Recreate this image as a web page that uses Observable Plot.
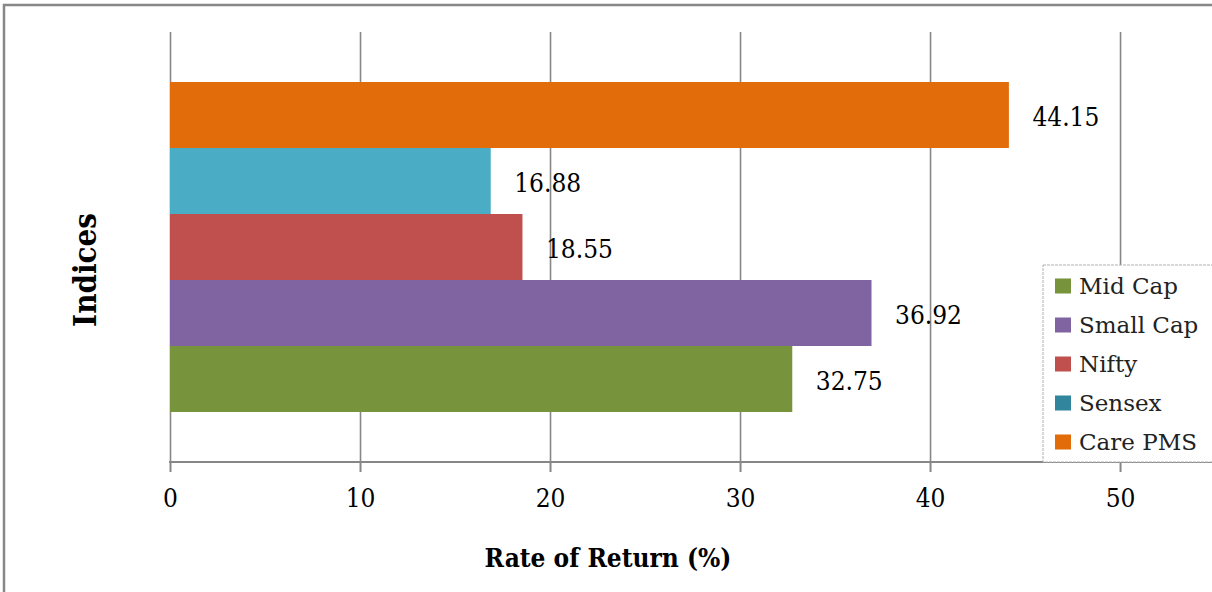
<!DOCTYPE html>
<html>
<head>
<meta charset="utf-8">
<script src="https://cdn.jsdelivr.net/npm/d3@7"></script>
<script src="https://cdn.jsdelivr.net/npm/@observablehq/plot@0.6"></script>
<style>
  html, body { margin: 0; padding: 0; background: #fff; }
  #chart { width: 1212px; height: 592px; overflow: hidden; }
  svg { font-family: "DejaVu Serif Condensed", "DejaVu Serif", serif; font-stretch: condensed; }
</style>
</head>
<body>
<div id="chart"></div>
<script>
const series = ["Mid Cap", "Small Cap", "Nifty", "Sensex", "Care PMS"];
const values = [32.75, 36.92, 18.55, 16.88, 44.15];
const colors = ["#77933C", "#8064A2", "#C0504D", "#4BACC6", "#E36C0A"];
const legendColors = ["#77933C", "#8064A2", "#C0504D", "#31859C", "#E36C0A"];
const xTicks = [0, 10, 20, 30, 40, 50];
const xTitle = "Rate of Return (%)";
const yTitle = "Indices";

const data = series.map((s, i) => ({ series: s, value: values[i] }));
const grid = "#878787";
const FONT = '"DejaVu Serif Condensed", "DejaVu Serif", serif';
const H = 592, MB = 130;

const chart = Plot.plot({
  width: 1212,
  height: H,
  marginLeft: 170,
  marginRight: 0,
  marginTop: 32,
  marginBottom: MB,
  style: { fontFamily: FONT, fontSize: "26px", background: "transparent", color: "#000" },
  x: { domain: [0, 54.84], ticks: xTicks },
  y: { domain: series.slice().reverse(), paddingInner: 0, paddingOuter: 0.725, axis: null },
  color: { domain: series, range: colors },
  marks: [
    Plot.gridX(xTicks, { stroke: grid, strokeOpacity: 1, strokeWidth: 1.6 }),
    Plot.barX(data, { x: "value", y: "series", fill: "series" }),
    Plot.axisX({ ticks: xTicks, tickSize: 10, tickPadding: 16, stroke: grid, strokeWidth: 2, fill: "#000", label: null, tickFormat: d => String(d) }),
    Plot.text(data, { x: "value", y: "series", text: d => d.value.toFixed(2), textAnchor: "start", dx: 23, dy: 2, fill: "#000", fontSize: 26 })
  ]
});

document.getElementById("chart").appendChild(chart);

const svg = d3.select(chart);
// outer frame
svg.insert("rect", ":first-child")
  .attr("x", 4).attr("y", 5).attr("width", 1230).attr("height", 620)
  .attr("fill", "#fff").attr("stroke", grid).attr("stroke-width", 2.5);

// x axis baseline along the bottom of the plot frame
const xr = chart.scale("x").range;
svg.append("line")
  .attr("x1", xr[0] - 1).attr("x2", xr[1])
  .attr("y1", H - MB).attr("y2", H - MB)
  .attr("stroke", grid).attr("stroke-width", 2.2);

// axis titles
svg.append("text")
  .attr("x", 608).attr("y", 567)
  .attr("text-anchor", "middle")
  .attr("font-family", FONT).attr("font-weight", "bold").attr("font-size", 26)
  .attr("fill", "#000")
  .text(xTitle);

svg.append("text")
  .attr("transform", "translate(96,270) rotate(-90)")
  .attr("text-anchor", "middle")
  .attr("font-family", FONT).attr("font-weight", "bold").attr("font-size", 31)
  .attr("fill", "#000")
  .text(yTitle);

// legend
const lg = svg.append("g");
lg.append("rect")
  .attr("x", 1043).attr("y", 265).attr("width", 180).attr("height", 197)
  .attr("fill", "#fff").attr("stroke", "#b0b0b0").attr("stroke-width", 1).attr("stroke-dasharray", "3,1");
series.forEach((s, i) => {
  const cy = 286 + i * 39;
  lg.append("rect")
    .attr("x", 1055).attr("y", cy - 7.5).attr("width", 16).attr("height", 15)
    .attr("fill", legendColors[i]);
  lg.append("text")
    .attr("x", 1079).attr("y", cy).attr("dy", "0.36em")
    .attr("text-anchor", "start")
    .attr("font-family", '"DejaVu Serif", serif').attr("font-stretch", "normal").attr("font-size", 23)
    .attr("fill", "#222")
    .text(s);
});
</script>
</body>
</html>
